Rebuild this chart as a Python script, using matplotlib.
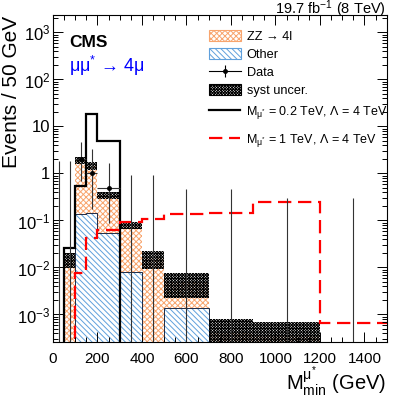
import numpy as np
import matplotlib
matplotlib.use("Agg")
import matplotlib.pyplot as plt
from matplotlib.patches import Patch
from matplotlib.lines import Line2D
from matplotlib.ticker import MultipleLocator, LogLocator, FuncFormatter, NullFormatter

plt.rcParams['font.family'] = ['Liberation Sans', 'DejaVu Sans']
plt.rcParams['mathtext.fontset'] = 'custom'
plt.rcParams['mathtext.rm'] = 'Liberation Sans'
plt.rcParams['mathtext.it'] = 'Liberation Sans:italic'
plt.rcParams['mathtext.bf'] = 'Liberation Sans:bold'
plt.rcParams['mathtext.default'] = 'regular'
plt.rcParams['hatch.linewidth'] = 0.7

# bin edges in GeV, values are events / 50 GeV
edges = [0, 50, 100, 150, 200, 300, 400, 500, 700, 900, 1200, 1500]
other = [0, 0, 0.138, 0.145, 0.054, 0.0079, 0, 0.00135, 0, 0, 0]
zz = [0, 0.015, 1.77, 1.32, 0.291, 0.0716, 0.0159, 0.0035, 0.0004, 0.00035, 0]
syst = [0, 0.0054, 0.355, 0.285, 0.065, 0.0135, 0.0067, 0.00265, 0.00039, 0.00033, 0]
sig_02 = [0, 0.026, 0.55, 18.2, 4.9, 0, 0, 0, 0, 0, 0]
sig_1 = [0, 0, 0.0078, 0.042, 0.0636, 0.092, 0.109, 0.135, 0.147, 0.25, 0.00066]
# raw data counts and poisson errors (counts)
data_n = [0, 0, 2, 1, 1, 0, 0, 0, 0, 0, 0]
data_lo = [0, 0, 1.292, 0.827, 0.827, 0, 0, 0, 0, 0, 0]
data_hi = [1.841, 1.841, 2.638, 2.300, 2.300, 1.841, 1.841, 1.841, 1.841, 1.841, 1.841]

edges = np.array(edges, float)
other = np.array(other); zz = np.array(zz); syst = np.array(syst)
width = np.diff(edges)
left = edges[:-1]
centers = left + width / 2
scale = 50.0 / width
total = other + zz

orange = '#f8a56e'
blue = '#5fa0dc'
h_zz = 'x' * 6
h_other = '\\' * 6
h_syst = 'x' * 12

fig = plt.figure(figsize=(4.07, 3.98), dpi=100)
ax = fig.add_axes([53/407, 56/398, 333.7/407, 327/398])
ax.set_yscale('log')

ax.bar(left, other, width=width, align='edge', facecolor='white', edgecolor=blue,
       hatch=h_other, linewidth=0)
ax.bar(left, zz, bottom=other, width=width, align='edge', facecolor='white',
       edgecolor=orange, hatch=h_zz, linewidth=0)
ax.stairs(np.maximum(other, 1e-9), edges, color='#1f2a44', lw=0.7)
ax.bar(left, 2 * syst, bottom=total - syst, width=width, align='edge',
       facecolor='none', edgecolor='black', hatch=h_syst, linewidth=0)

ax.stairs(np.maximum(sig_02, 1e-9), edges, baseline=None, color='black', lw=1.6)
ax.stairs(np.maximum(sig_1, 1e-9), edges, baseline=None, color='red', lw=1.6,
          linestyle=(0, (6, 3)))

n = np.array(data_n, float)
lo = np.array(data_lo) * scale
hi = np.array(data_hi) * scale
y = n * scale
zero = n == 0
ax.vlines(centers[zero], 1e-9, hi[zero], color='#333333', lw=0.8)
nz = ~zero
ax.errorbar(centers[nz], y[nz], xerr=width[nz] / 2, yerr=[lo[nz], hi[nz]],
            fmt='o', ms=2.5, color='black', ecolor='#333333', elinewidth=0.8, capsize=0)

ax.set_xlim(0, 1500)
ax.set_ylim(2.6e-4, 2350)
ax.xaxis.set_major_locator(MultipleLocator(200))
ax.xaxis.set_minor_locator(MultipleLocator(50))
ax.yaxis.set_major_locator(LogLocator(base=10, numticks=20))
ax.yaxis.set_minor_locator(LogLocator(base=10, subs=np.arange(2, 10), numticks=20))
ax.yaxis.set_minor_formatter(NullFormatter())


def yfmt(v, pos):
    e = int(round(np.log10(v)))
    if e == 0:
        return '1'
    if e == 1:
        return '10'
    return '$10^{%d}$' % e


ax.yaxis.set_major_formatter(FuncFormatter(yfmt))
ax.tick_params(which='both', direction='in', top=True, right=True, width=0.7)
ax.tick_params(which='major', length=7)
ax.tick_params(which='minor', length=3.5)
ax.tick_params(axis='x', labelsize=11, pad=7)
ax.tick_params(axis='y', labelsize=12, pad=2)
for s in ax.spines.values():
    s.set_linewidth(0.8)

fig.text(12/407, 1 - 16/398, 'Events / 50 GeV', rotation=90, ha='center', va='top', fontsize=15)
fig.text(386/407, 1 - 390/398, r'M$_{min}^{\mu^{*}}$ (GeV)', ha='right', va='baseline', fontsize=14.5)
fig.text(386/407, 1 - 14/398, r'19.7 fb$^{-1}$ (8 TeV)', ha='right', va='baseline', fontsize=10.5)
ax.text(0.048, 0.902, 'CMS', transform=ax.transAxes, fontsize=12.5, fontweight='bold')
ax.text(0.048, 0.825, r'μμ$^{*}$ → 4μ', transform=ax.transAxes, fontsize=13, color='blue')

h1 = [Patch(facecolor='white', edgecolor=orange, hatch=h_zz, lw=0.8),
      Patch(facecolor='white', edgecolor=blue, hatch=h_other, lw=0.8),
      (Line2D([0], [0], color='black', lw=0.8),
       Line2D([0], [0], color='black', marker='|', ms=8, ls='none', mew=0.8),
       Line2D([0], [0], color='black', marker='o', ms=2.5, ls='none')),
      Patch(facecolor='white', edgecolor='black', hatch=h_syst, lw=0.8)]
l1 = ['ZZ → 4l', 'Other', 'Data', 'syst uncer.']
leg1 = ax.legend(h1, l1, loc='upper left', bbox_to_anchor=(0.4675, 0.955), frameon=False,
                 fontsize=9.2, handlelength=2.5, handleheight=0.95, labelspacing=0.4,
                 handletextpad=0.45, borderpad=0, borderaxespad=0)
ax.add_artist(leg1)
h2 = [Line2D([0], [0], color='black', lw=1.6),
      Line2D([0], [0], color='red', lw=1.6, linestyle=(0, (6, 3)))]
l2 = [r'M$_{\mu^{*}}$ = 0.2 TeV, Λ = 4 TeV', r'M$_{\mu^{*}}$ = 1 TeV, Λ = 4 TeV']
ax.legend(h2, l2, loc='upper left', bbox_to_anchor=(0.4675, 0.728), frameon=False,
          fontsize=9, handlelength=2.5, labelspacing=0.85,
          handletextpad=0.45, borderpad=0, borderaxespad=0)

fig.savefig('out.png', dpi=100)
